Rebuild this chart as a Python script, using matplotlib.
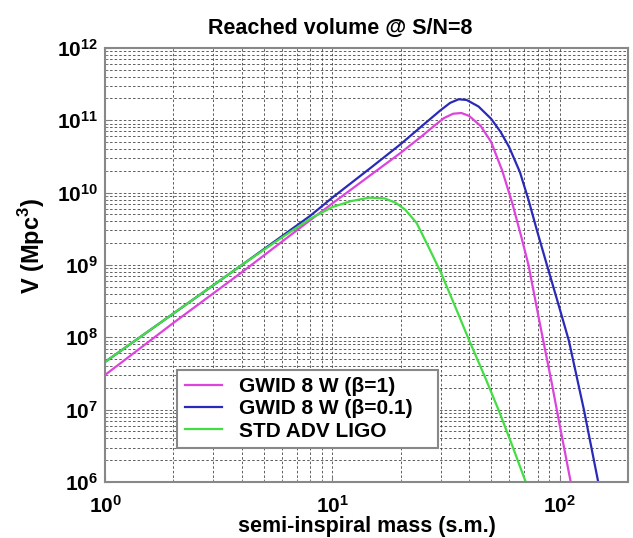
import matplotlib
matplotlib.use("Agg")
import matplotlib.pyplot as plt
from matplotlib.font_manager import FontProperties
import numpy as np

# ── data (mass in s.m., log10 of volume in Mpc^3) ──
mass_b1 = [1, 2, 4, 8, 10, 15, 20, 25, 28, 31, 34, 37, 40, 45, 50, 56, 62, 68, 73, 83, 92, 100, 112]
logv_b1 = [7.48, 8.20, 8.90, 9.62, 9.85, 10.26, 10.55, 10.79, 10.92, 11.03, 11.09, 11.10, 11.06,
           10.92, 10.70, 10.30, 9.85, 9.38, 9.0, 8.1, 7.4, 6.8, 6.0]

mass_b01 = [1, 2, 4, 8, 10, 15, 20, 25, 30, 33, 36, 39, 44, 50, 55, 60, 67, 73, 80, 88, 99, 110, 128, 148]
logv_b01 = [7.66, 8.33, 9.0, 9.68, 9.93, 10.36, 10.67, 10.93, 11.14, 11.24, 11.29, 11.28,
            11.19, 11.02, 10.84, 10.63, 10.28, 9.90, 9.45, 9.0, 8.45, 7.95, 7.0, 6.0]

mass_std = [1, 2, 4, 6, 8, 10, 12, 14.5, 17, 19, 21, 23.5, 26.5, 30, 35, 40, 47, 54, 62, 71]
logv_std = [7.66, 8.33, 9.0, 9.38, 9.64, 9.80, 9.88, 9.93, 9.92, 9.86, 9.76, 9.58, 9.25,
            8.90, 8.40, 7.96, 7.45, 6.99, 6.50, 6.0]

labels = ["GWID 8 W (\u03b2=1)", "GWID 8 W (\u03b2=0.1)", "STD ADV LIGO"]
colors = ["#dd44dd", "#2a2ab8", "#44dd44"]

xexp = [0, 1, 2]
yexp = [6, 7, 8, 9, 10, 11, 12]

plt.rcParams["font.family"] = ["Liberation Sans", "DejaVu Sans"]
plt.rcParams["mathtext.fontset"] = "custom"
plt.rcParams["mathtext.bf"] = "Liberation Sans:bold"
plt.rcParams["mathtext.rm"] = "Liberation Sans"

fig = plt.figure(figsize=(6.33, 5.38), dpi=100)
ax = fig.add_axes([0.166, 0.104, 0.826, 0.807])

series = [(mass_b1, logv_b1), (mass_b01, logv_b01), (mass_std, logv_std)]
for (m, lv), lab, col in zip(series, labels, colors):
    ax.plot(m, 10.0 ** np.array(lv), color=col, lw=1.6, label=lab)

ax.set_xscale("log")
ax.set_yscale("log")
ax.set_xlim(1, 200)
ax.set_ylim(1e6, 1e12)

def sci(e):
    return r"$\mathbf{10^{%d}}$" % e

ax.set_xticks([10.0 ** e for e in xexp])
ax.set_xticklabels([sci(e) for e in xexp], fontsize=15)
ax.set_yticks([10.0 ** e for e in yexp])
ax.set_yticklabels([sci(e) for e in yexp], fontsize=15)
ax.tick_params(which="major", direction="in", length=4, color="#808080")
ax.tick_params(which="minor", direction="in", length=2, color="#808080")
ax.tick_params(axis="x", pad=9)
ax.tick_params(axis="y", pad=5)

grid_style = dict(color="#444444", linestyle=(0, (3, 2.5)), linewidth=0.6)
ax.grid(True, which="major", **grid_style)
ax.grid(True, which="minor", **grid_style)

for sp in ax.spines.values():
    sp.set_color("#888888")
    sp.set_linewidth(1.5)

fig.text(0.537, 0.948, "Reached volume @ S/N=8", fontsize=15.5, fontweight="bold",
         ha="center", va="center")
ax.set_xlabel("semi-inspiral mass (s.m.)", fontsize=15.5, fontweight="bold", labelpad=0)
ax.set_ylabel(r"V (Mpc$^{\mathbf{3}}$)", fontsize=17, fontweight="bold")
ax.yaxis.set_label_coords(-0.112, 0.545)

leg_font = FontProperties(family="Liberation Sans", weight="bold", size=15)
leg = ax.legend(loc="upper left", bbox_to_anchor=(0.138, 0.258, 0.499, 0.0),
                mode="expand", prop=leg_font,
                frameon=True, fancybox=False, borderaxespad=0, handlelength=1.8,
                handletextpad=0.8, labelspacing=0.15, borderpad=0.35)
leg.get_frame().set_edgecolor("#888888")
leg.get_frame().set_linewidth(1.5)
leg.get_frame().set_alpha(1)

fig.savefig("out.png", dpi=100)
